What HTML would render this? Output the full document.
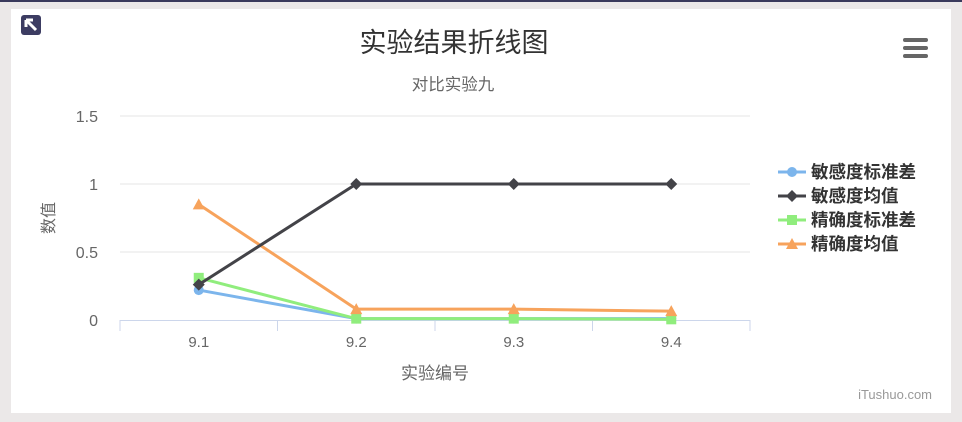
<!DOCTYPE html>
<html><head><meta charset="utf-8"><style>
body{margin:0;width:962px;height:422px;overflow:hidden;background:#ebe8e8;font-family:"Liberation Sans","Noto Sans CJK SC",sans-serif}
#card{position:absolute;left:11px;top:9px;width:940px;height:404px;background:#fff}
#topbar{position:absolute;left:0;top:0;width:962px;height:2px;background:#3a3a5c}
svg{position:absolute;left:0;top:0}
</style></head><body>
<div id="topbar"></div>
<div id="card"></div>
<svg id="chart" width="962" height="422">
<rect x="21" y="15" width="20" height="20" rx="3" fill="#3c3c62"/>
<path d="M26 20 L33 20 M26 20 L26 27 M26 20 L36 30" stroke="#fff" stroke-width="3" fill="none"/>
<text x="454" y="52" text-anchor="middle" font-size="27" fill="#333">实验结果折线图</text>
<text x="453" y="90" text-anchor="middle" font-size="16.5" fill="#666">对比实验九</text>
<g fill="#666"><rect x="903" y="38" width="25" height="4" rx="2"/><rect x="903" y="46" width="25" height="4" rx="2"/><rect x="903" y="54" width="25" height="4" rx="2"/></g>
<text x="54" y="218" text-anchor="middle" font-size="16" fill="#666" transform="rotate(-90 54 218)">数值</text>
<text x="435" y="379" text-anchor="middle" font-size="17" fill="#666">实验编号</text>
<text x="932" y="399" text-anchor="end" font-size="13" fill="#999">iTushuo.com</text>
<g id="grid"></g><g id="series"></g><g id="legend"></g>
</svg>
<script>
const categories=["9.1","9.2","9.3","9.4"];
const yTicks=[0,0.5,1,1.5];
const yTickLabels=["0","0.5","1","1.5"];
const seriesNames=["敏感度标准差","敏感度均值","精确度标准差","精确度均值"];
const sensSd=[0.22,0.01,0.01,0.01];
const sensMean=[0.26,1,1,1];
const precSd=[0.31,0.01,0.01,0.005];
const precMean=[0.85,0.08,0.08,0.065];
const NS="http://www.w3.org/2000/svg";
const x0=120,x1=750,y0=320,yTop=116;
const step=(x1-x0)/categories.length;
const xS=i=>x0+step*(i+0.5);
const yS=v=>y0-(v/1.5)*(y0-yTop);
function mk(t,a,p){const e=document.createElementNS(NS,t);for(const k in a)e.setAttribute(k,a[k]);p.appendChild(e);return e;}
const grid=document.getElementById('grid');
yTicks.forEach((v,i)=>{
 if(v>0){const l=mk('line',{x1:x0,x2:x1,y1:yS(v),y2:yS(v),stroke:'#e6e6e6'},grid);
 
 }
 const t=mk('text',{x:98,y:yS(v)+6,'text-anchor':'end','font-size':16,fill:'#666'},grid);t.textContent=yTickLabels[i];
 
 
});
const ax=mk('line',{x1:x0,x2:x1,y1:y0+0.5,y2:y0+0.5,stroke:'#ccd6eb'},grid);


for(let i=0;i<=categories.length;i++){mk('line',{x1:x0+step*i,x2:x0+step*i,y1:y0,y2:y0+11,stroke:'#ccd6eb'},grid);}
categories.forEach((c,i)=>{const t=mk('text',{x:xS(i),y:y0+27,'text-anchor':'middle','font-size':15,fill:'#666'},grid);t.textContent=c;
 
 });
const colors=["#7cb5ec","#434348","#90ed7d","#f7a35c"];
const data=[sensSd,sensMean,precSd,precMean];
const shapes=["circle","diamond","square","triangle"];
function marker(g,s,x,y,c,r){
 if(s==="circle")return mk('circle',{cx:x,cy:y,r:r,fill:c},g);
 if(s==="square")return mk('rect',{x:x-r,y:y-r,width:2*r,height:2*r,fill:c},g);
 if(s==="diamond")return mk('path',{d:`M${x} ${y-r-1}L${x+r+1} ${y}L${x} ${y+r+1}L${x-r-1} ${y}Z`,fill:c},g);
 return mk('path',{d:`M${x} ${y-r-1}L${x+r+1} ${y+r}L${x-r-1} ${y+r}Z`,fill:c},g);
}
const sg=document.getElementById('series');
[0,2,3,1].forEach(k=>{
 const g=mk('g',{},sg);
 
 
 mk('path',{d:data[k].map((v,i)=>(i?'L':'M')+xS(i)+' '+yS(v)).join(''),stroke:colors[k],'stroke-width':3,fill:'none'},g);
 data[k].forEach((v,i)=>{const m=marker(g,shapes[k],xS(i),yS(v),colors[k],5);
  
  });
});
const lg=document.getElementById('legend');
seriesNames.forEach((n,k)=>{
 const y=172+k*24;
 const g=mk('g',{},lg);
 
 
 mk('line',{x1:778,x2:806,y1:y,y2:y,stroke:colors[k],'stroke-width':3},g);
 marker(g,shapes[k],792,y,colors[k],5);
 const t=mk('text',{x:811,y:y+6,'font-size':17.5,'font-weight':'bold',fill:'#333'},g);t.textContent=n;
});
</script>
</body></html>
